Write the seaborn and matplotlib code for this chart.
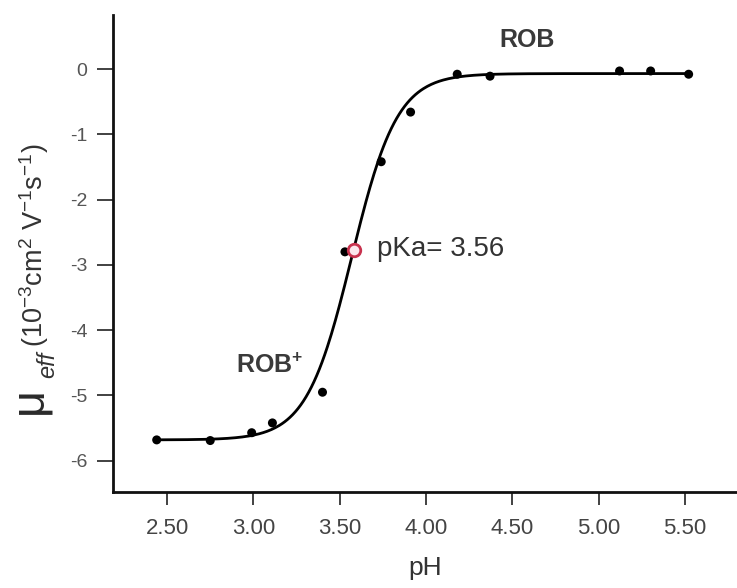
import numpy as np
import pandas as pd
import matplotlib.pyplot as plt
import seaborn as sns

# measured points (pH vs effective mobility)
ph = [2.44, 2.75, 2.99, 3.11, 3.40, 3.53, 3.74, 3.91, 4.18, 4.37, 5.12, 5.30, 5.52]
mu = [-5.68, -5.69, -5.57, -5.42, -4.95, -2.80, -1.42, -0.66, -0.08, -0.11, -0.03, -0.03, -0.08]

# sigmoid fit parameters
mu_low, mu_high = -5.68, -0.07
pka_fit, hill = 3.57, 3.3
pka_mark_x, pka_mark_y = 3.58, -2.77
pka_label = 'pKa= 3.56'

xticks = [2.5, 3.0, 3.5, 4.0, 4.5, 5.0, 5.5]
yticks = [0, -1, -2, -3, -4, -5, -6]

sns.set_style('ticks')
plt.rcParams['font.family'] = ['Liberation Sans', 'DejaVu Sans']
plt.rcParams['axes.unicode_minus'] = False
plt.rcParams['mathtext.fontset'] = 'custom'
plt.rcParams['mathtext.rm'] = 'Liberation Sans'
plt.rcParams['mathtext.it'] = 'Liberation Sans:italic'
plt.rcParams['mathtext.bf'] = 'Liberation Sans:bold'

df = pd.DataFrame({'pH': ph, 'mu': mu})
ph_fit = np.linspace(min(ph), max(ph), 400)
mu_fit = mu_high + (mu_low - mu_high) / (1 + 10 ** (hill * (ph_fit - pka_fit)))
df_fit = pd.DataFrame({'pH': ph_fit, 'mu': mu_fit})

fig = plt.figure(figsize=(7.37, 5.88), dpi=100)
ax = fig.add_axes([113 / 737, 96 / 588, 624 / 737, 477 / 588])

sns.lineplot(data=df_fit, x='pH', y='mu', color='black', linewidth=2.0, ax=ax, zorder=2)
sns.scatterplot(data=df, x='pH', y='mu', color='black', s=42, edgecolor='none', ax=ax, zorder=3)
ax.plot(pka_mark_x, pka_mark_y, 'o', mfc='#fbe6ec', mec='#c8324e', mew=2, ms=9, zorder=4)

ax.set_xlim(2.187, 5.80)
ax.set_ylim(-6.478, 0.827)
ax.set_xticks(xticks)
ax.set_xticklabels([f'{t:.2f}' for t in xticks], fontsize=16, color='#444444')
ax.set_yticks(yticks)
ax.set_yticklabels([str(t) for t in yticks], fontsize=14, color='#555555')
ax.tick_params(axis='x', length=9, width=1.3, pad=10, color='#333333')
ax.tick_params(axis='y', length=11.5, width=1.3, pad=7, color='#333333')

sns.despine(ax=ax)
for side in ['left', 'bottom']:
    ax.spines[side].set_linewidth(2.0)
    ax.spines[side].set_color('#111111')

ax.set_xlabel('pH', fontsize=19, color='#333333', labelpad=12)
ax.set_ylabel('')

# y label: big mu, italic eff, then the units
fig.text(41 / 737, 1 - 414 / 588, '\u03bc', rotation=90, rotation_mode='anchor',
         ha='left', va='baseline', fontsize=34, color='#2a2a2a')
fig.text(54 / 737, 1 - 378 / 588, 'eff', rotation=90, rotation_mode='anchor',
         ha='left', va='baseline', fontsize=17, style='italic', color='#333333')
fig.text(43 / 737, 1 - 347 / 588, r'(10$^{-3}$cm$^{2}$ V$^{-1}$s$^{-1}$)', rotation=90,
         rotation_mode='anchor', ha='left', va='baseline', fontsize=19.5, color='#333333')

ax.text(4.585, 0.444, 'ROB', fontsize=18, fontweight='bold', color='#3a3a3a',
        ha='center', va='center')
ax.text(3.096, -4.55, r'ROB$^{\mathbf{+}}$', fontsize=18, fontweight='bold', color='#3a3a3a',
        ha='center', va='center')
ax.text(3.716, -2.76, pka_label, fontsize=20, color='#333333', ha='left', va='center')

fig.savefig('out.png', dpi=100)
